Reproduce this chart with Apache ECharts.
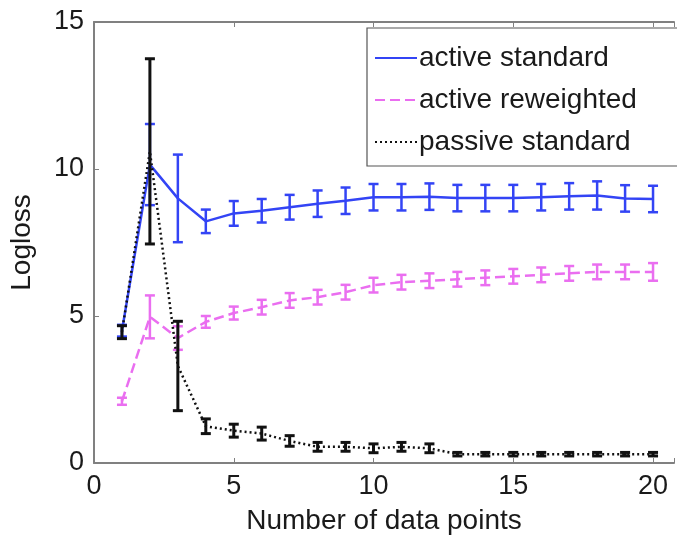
<!DOCTYPE html>
<html>
<head>
<meta charset="utf-8">
<script src="https://cdn.jsdelivr.net/npm/echarts@6/dist/echarts.min.js"></script>
<style>
  html, body { margin: 0; padding: 0; background: #fff; }
  #main { width: 677px; height: 545px; }
</style>
</head>
<body>
<div id="main"></div>
<script>
// number of data points
var xs = [1, 2, 3, 4, 5, 6, 7, 8, 9, 10, 11, 12, 13, 14, 15, 16, 17, 18, 19, 20];
// active standard (mean, error)
var activeStd = [4.5, 10.15, 9.0, 8.22, 8.49, 8.58, 8.7, 8.82, 8.92, 9.04, 9.04, 9.06, 9.01, 9.01, 9.01, 9.04, 9.07, 9.1, 9.0, 8.98];
var activeStdErr = [0.2, 1.38, 1.49, 0.4, 0.42, 0.4, 0.42, 0.45, 0.45, 0.45, 0.45, 0.45, 0.45, 0.45, 0.45, 0.45, 0.45, 0.48, 0.45, 0.45];
// active reweighted
var activeRew = [2.1, 4.97, 4.25, 4.8, 5.1, 5.3, 5.53, 5.64, 5.81, 6.05, 6.15, 6.2, 6.25, 6.3, 6.35, 6.4, 6.45, 6.5, 6.5, 6.5];
var activeRewErr = [0.12, 0.73, 0.4, 0.2, 0.22, 0.25, 0.25, 0.25, 0.25, 0.25, 0.25, 0.25, 0.25, 0.25, 0.25, 0.25, 0.25, 0.25, 0.25, 0.3];
// passive standard
var passiveStd = [4.45, 10.6, 3.3, 1.25, 1.1, 1.0, 0.75, 0.55, 0.55, 0.5, 0.55, 0.5, 0.3, 0.3, 0.3, 0.3, 0.3, 0.3, 0.3, 0.3];
var passiveStdErr = [0.22, 3.15, 1.52, 0.25, 0.22, 0.22, 0.18, 0.15, 0.15, 0.15, 0.15, 0.15, 0.06, 0.06, 0.06, 0.06, 0.06, 0.06, 0.06, 0.06];
var yTicks = [0, 5, 10, 15];

var blue = '#3344f5';
var pink = '#ea6ef0';
var black = '#111111';
var font = '"Liberation Sans", Arial, sans-serif';

function pairs(vals) {
  return xs.map(function (x, i) { return [x, vals[i]]; });
}
function bars(vals, errs) {
  return xs.map(function (x, i) { return [x, vals[i] - errs[i], vals[i] + errs[i]]; });
}
function errorBar(color, lw) {
  return function (params, api) {
    var x = api.value(0);
    var top = api.coord([x, api.value(2)]);
    var bot = api.coord([x, api.value(1)]);
    var w = 5;
    var st = { stroke: color, lineWidth: lw };
    return {
      type: 'group',
      children: [
        { type: 'line', shape: { x1: top[0], y1: top[1], x2: bot[0], y2: bot[1] }, style: st },
        { type: 'line', shape: { x1: top[0] - w, y1: top[1], x2: top[0] + w, y2: top[1] }, style: st },
        { type: 'line', shape: { x1: bot[0] - w, y1: bot[1], x2: bot[0] + w, y2: bot[1] }, style: st }
      ]
    };
  };
}

var myChart = echarts.init(document.getElementById('main'));
myChart.setOption({
  animation: false,
  backgroundColor: '#fff',
  grid: { left: 94, top: 22, right: 0, bottom: 82 },
  legend: {
    data: ['active standard', 'active reweighted', 'passive standard'],
    orient: 'vertical',
    left: 367,
    top: 28,
    padding: [15, 60, 9, 7],
    itemGap: 12,
    itemWidth: 42,
    itemHeight: 14,
    itemStyle: { opacity: 0 },
    backgroundColor: '#fff',
    borderColor: '#555',
    borderWidth: 1.2,
    textStyle: { fontFamily: font, fontSize: 28, color: '#1a1a1a', lineHeight: 30, padding: [0, 0, 0, -3] }
  },
  xAxis: [{
    type: 'value',
    min: 0,
    max: 20.75,
    interval: 5,
    name: 'Number of data points',
    nameLocation: 'middle',
    nameGap: 44,
    nameTextStyle: { fontFamily: font, fontSize: 28, color: '#1a1a1a' },
    axisLine: { lineStyle: { color: '#808080', width: 2 } },
    axisTick: { inside: true, length: 5, lineStyle: { color: '#808080' } },
    axisLabel: {
      fontFamily: font, fontSize: 27, color: '#1a1a1a', margin: 10,
      formatter: function (v) { return v % 5 === 0 ? String(v) : ''; }
    },
    splitLine: { show: false }
  }, {
    type: 'value',
    position: 'top',
    min: 0,
    max: 20.75,
    interval: 5,
    axisLine: { show: true, lineStyle: { color: '#808080', width: 2 } },
    axisTick: { inside: true, length: 5, lineStyle: { color: '#808080' } },
    axisLabel: { show: false },
    splitLine: { show: false }
  }],
  yAxis: {
    type: 'value',
    min: yTicks[0],
    max: yTicks[yTicks.length - 1],
    interval: 5,
    name: 'Logloss',
    nameLocation: 'middle',
    nameGap: 58,
    nameTextStyle: { fontFamily: font, fontSize: 28, color: '#1a1a1a' },
    axisLine: { show: true, lineStyle: { color: '#808080', width: 2 } },
    axisTick: { inside: true, length: 5, lineStyle: { color: '#808080' } },
    axisLabel: { fontFamily: font, fontSize: 27, color: '#1a1a1a', margin: 10 },
    splitLine: { show: false }
  },
  series: [
    {
      name: 'active standard',
      type: 'line',
      symbol: 'none',
      data: pairs(activeStd),
      lineStyle: { color: blue, width: 2.5 },
      itemStyle: { color: blue },
      z: 3
    },
    {
      name: 'active standard err',
      type: 'custom',
      renderItem: errorBar(blue, 2.5),
      encode: { x: 0, y: [1, 2] },
      data: bars(activeStd, activeStdErr),
      z: 3
    },
    {
      name: 'active reweighted',
      type: 'line',
      symbol: 'none',
      data: pairs(activeRew),
      lineStyle: { color: pink, width: 2.5, type: [10, 5] },
      itemStyle: { color: pink },
      z: 4
    },
    {
      name: 'active reweighted err',
      type: 'custom',
      renderItem: errorBar(pink, 2.5),
      encode: { x: 0, y: [1, 2] },
      data: bars(activeRew, activeRewErr),
      z: 4
    },
    {
      name: 'passive standard',
      type: 'line',
      symbol: 'none',
      data: pairs(passiveStd),
      lineStyle: { color: black, width: 2.5, type: [2, 3] },
      itemStyle: { color: black },
      z: 5
    },
    {
      name: 'passive standard err',
      type: 'custom',
      renderItem: errorBar(black, 3),
      encode: { x: 0, y: [1, 2] },
      data: bars(passiveStd, passiveStdErr),
      z: 5
    }
  ]
});
</script>
</body>
</html>
